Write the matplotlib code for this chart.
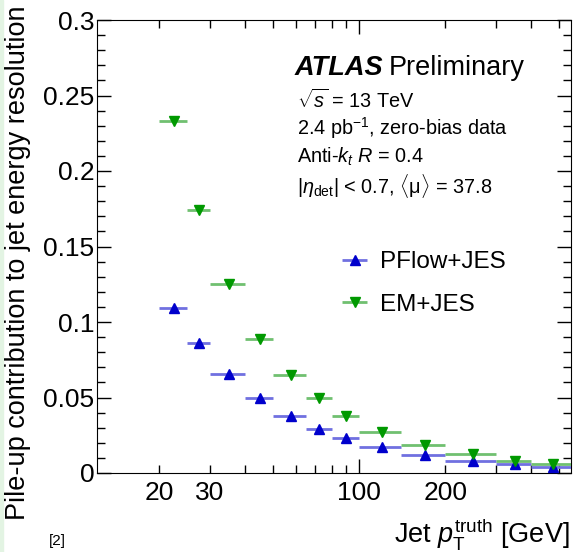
import matplotlib
matplotlib.use("Agg")
import matplotlib.pyplot as plt
from matplotlib.patches import Rectangle
from matplotlib.ticker import FixedLocator, FixedFormatter

plt.rcParams['font.family'] = ['Liberation Sans', 'DejaVu Sans']
plt.rcParams['mathtext.fontset'] = 'custom'
plt.rcParams['mathtext.rm'] = 'Liberation Sans'
plt.rcParams['mathtext.it'] = 'Liberation Sans:italic'
plt.rcParams['mathtext.bf'] = 'Liberation Sans:bold'

# bin edges in jet pT (GeV)
bin_edges = [20, 25, 30, 40, 50, 65, 80, 100, 140, 200, 300, 400, 550]
pflow_jes = [0.1095, 0.086, 0.0653, 0.0495, 0.0377, 0.0289, 0.023,
             0.017, 0.0119, 0.0079, 0.006, 0.0042]
em_jes = [0.233, 0.174, 0.125, 0.089, 0.065, 0.0495, 0.038,
          0.0274, 0.0185, 0.0124, 0.0081, 0.006]

y_ticks = [0, 0.05, 0.1, 0.15, 0.2, 0.25, 0.3]
y_tick_labels = ['0', '0.05', '0.1', '0.15', '0.2', '0.25', '0.3']

W, H = 573, 552
fig = plt.figure(figsize=(W / 100, H / 100), dpi=100)
ax = fig.add_axes([97 / W, 1 - 473 / H, (571 - 97) / W, (473 - 20) / H])

# faint strip on the left edge from the slide
fig.patches.append(Rectangle((0, 0), 3 / W, 1, transform=fig.transFigure,
                             color='#e3f4e3', zorder=0))

centers = [(lo + hi) / 2 for lo, hi in zip(bin_edges[:-1], bin_edges[1:])]
xlo = [c - lo for c, lo in zip(centers, bin_edges[:-1])]
xhi = [hi - c for c, hi in zip(centers, bin_edges[1:])]

blue = '#0000cc'
green = '#009900'
h1 = ax.errorbar(centers, pflow_jes, xerr=[xlo, xhi], fmt='^', color=blue,
                 ecolor='#7070e0', elinewidth=2, markersize=7, capsize=0,
                 label='PFlow+JES', zorder=3)
h2 = ax.errorbar(centers, em_jes, xerr=[xlo, xhi], fmt='v', color=green,
                 ecolor='#70c070', elinewidth=2, markersize=7, capsize=0,
                 label='EM+JES', zorder=3)

ax.set_xscale('log')
ax.set_xlim(12.1, 550)
ax.set_ylim(0, 0.3)

ax.xaxis.set_major_locator(FixedLocator([100]))
ax.xaxis.set_major_formatter(FixedFormatter(['100']))
minor_x = [20, 30, 40, 50, 60, 70, 80, 90, 200, 300, 400, 500]
ax.xaxis.set_minor_locator(FixedLocator(minor_x))
ax.xaxis.set_minor_formatter(FixedFormatter(
    ['20', '30', '', '', '', '', '', '', '200', '', '', '']))

ax.yaxis.set_major_locator(FixedLocator(y_ticks))
ax.yaxis.set_major_formatter(FixedFormatter(y_tick_labels))
ax.yaxis.set_minor_locator(FixedLocator([i / 100 for i in range(31)]))

ax.tick_params(which='both', direction='in', top=True, right=True,
               labelsize=19)
ax.tick_params(which='major', length=10, width=1)
ax.tick_params(which='minor', length=5.8, width=1)
ax.tick_params(axis='x', which='both', pad=6)
ax.tick_params(axis='y', which='both', pad=2)

ax.legend(handles=[h1, h2], loc='upper left', frameon=False, fontsize=17.5,
          bbox_to_anchor=(337 / W, 1 - 251 / H), bbox_transform=fig.transFigure,
          handlelength=1.45, handletextpad=0.3, labelspacing=0.85,
          borderpad=0, borderaxespad=0)

fig.text(295 / W, 1 - 68 / H, 'ATLAS', fontsize=19.5, fontweight='bold',
         fontstyle='italic', va='center')
fig.text(389 / W, 1 - 68 / H, 'Preliminary', fontsize=19.5, va='center')
lines = [r'$\sqrt{s}$ = 13 TeV',
         r'2.4 pb$^{\mathrm{-1}}$, zero-bias data',
         r'Anti-$k_{t}$ $R$ = 0.4',
         r'|$\eta_{\mathrm{det}}$| < 0.7, $\langle\mathrm{\mu}\rangle$ = 37.8']
for i, s in enumerate(lines):
    fig.text(297 / W, 1 - (100 + 28.5 * i) / H, s, fontsize=14.3, va='center')

fig.text(18 / W, 1 - 5 / H, 'Pile-up contribution to jet energy resolution',
         rotation=90, fontsize=19.5, ha='center', va='top')
fig.text(570 / W, 1 - 543 / H, r'Jet $p_{\mathrm{T}}^{\mathrm{truth}}$ [GeV]',
         fontsize=19.5, ha='right', va='baseline')
fig.text(57 / W, 1 - 541 / H, '[2]', fontsize=11, ha='center', va='center')

fig.savefig('out.png', dpi=100)
